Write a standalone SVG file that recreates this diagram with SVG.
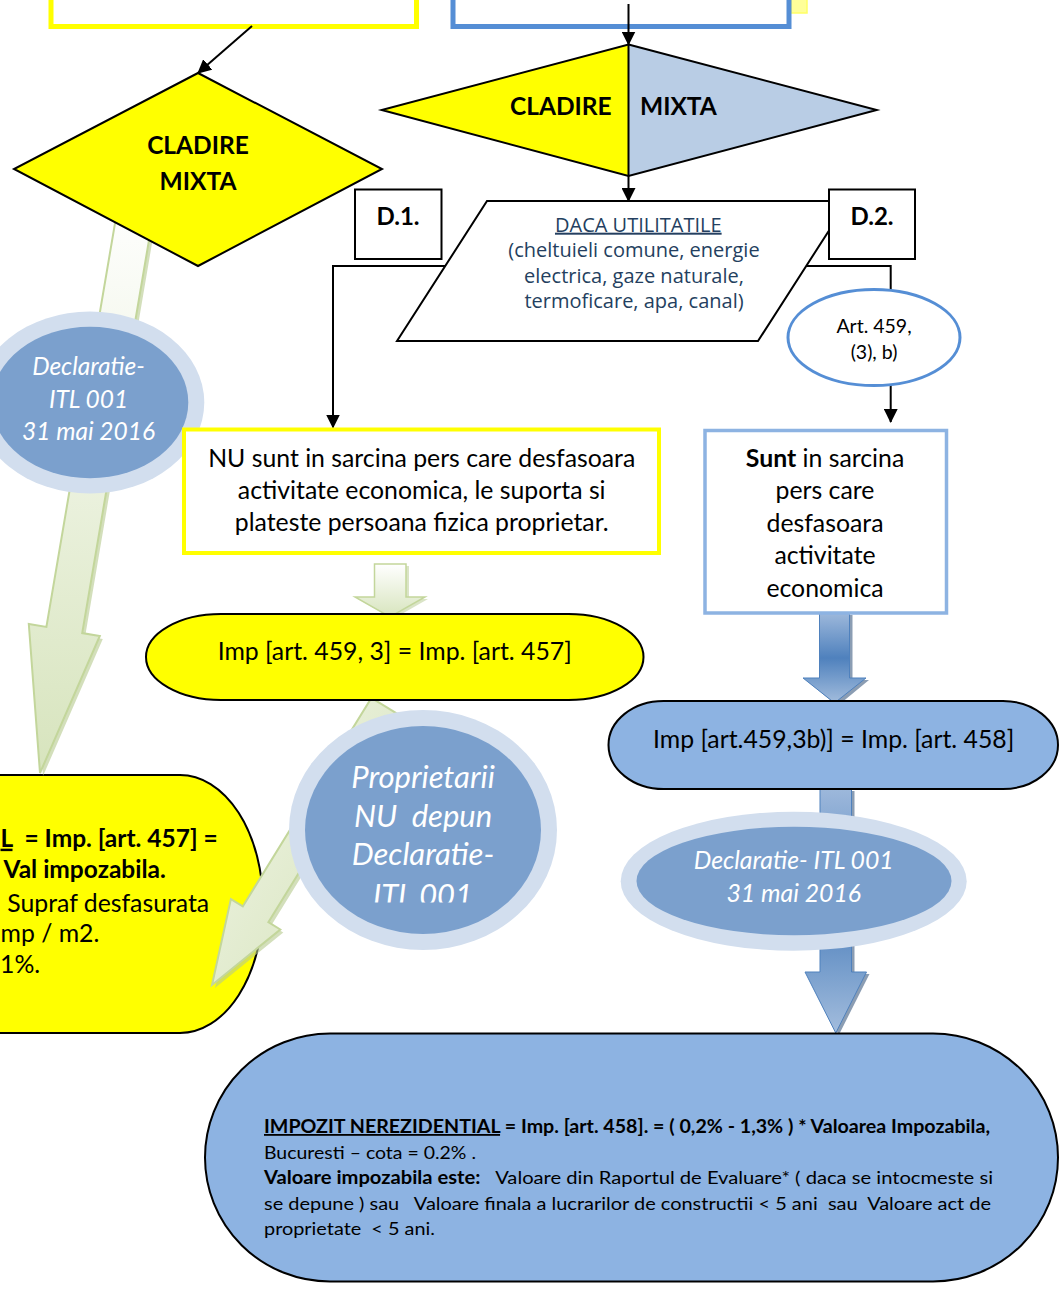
<svg xmlns="http://www.w3.org/2000/svg" width="1062" height="1290" viewBox="0 0 1062 1290">
<defs>
<style>
.t{font-family:Lato,"Open Sans","Liberation Sans",sans-serif;fill:#000}
.b{font-weight:bold}
.it{font-style:italic;fill:#fff}
.c{text-anchor:middle}
.u{text-decoration:underline}
.ln{fill:none;stroke:#000;stroke-width:2}
.blk{stroke:#000;stroke-width:2}
.ring{fill:#D2DEEE}
.core{fill:#7BA0CD}
.par{font-family:"Open Sans",Lato,sans-serif;fill:#243F60;font-size:20px;text-anchor:middle}
.m{font-size:24.8px}
</style>
<marker id="ah" markerWidth="14" markerHeight="14" refX="13" refY="7" orient="auto" markerUnits="userSpaceOnUse"><path d="M0,0 L14,7 L0,14 z" fill="#000"/></marker>
<linearGradient id="gG" x1="0" y1="0" x2="0" y2="1"><stop offset="0" stop-color="#FFFFFF"/><stop offset="1" stop-color="#D7E4BD"/></linearGradient>
<linearGradient id="gG2" x1="0" y1="0" x2="1" y2="1"><stop offset="0" stop-color="#F2F6E9"/><stop offset="1" stop-color="#D4E2B8"/></linearGradient>
<linearGradient id="gB" x1="0" y1="0" x2="0" y2="1"><stop offset="0" stop-color="#9DB8DB"/><stop offset="0.5" stop-color="#4F81BD"/><stop offset="1" stop-color="#A3BDDD"/></linearGradient>
<clipPath id="clipP"><rect x="280" y="700" width="300" height="202.5"/></clipPath>
</defs>
<rect width="1062" height="1290" fill="#fff"/>

<g id="top-yellow-box"><rect x="51" y="-20" width="365.5" height="46.5" fill="#fff" stroke="#FFFF00" stroke-width="5"/></g>
<g id="top-yellow-patch"><rect x="791" y="-5" width="16" height="18" fill="#FFFF99" stroke="#FFFF66" stroke-width="1.5"/></g>
<g id="top-blue-box"><rect x="453" y="-20" width="336" height="46.5" fill="#fff" stroke="#558ED5" stroke-width="5"/></g>

<g id="left-result"><path d="M-20,775 H180 A83,129 0 0 1 180,1033 H-20 Z" fill="#FFFF00" class="blk"/>
<text class="t b" font-size="24.5" y="846.7" xml:space="preserve"><tspan x="0.5" class="u">L</tspan><tspan>  = Imp. [art. 457] =</tspan></text>
<text class="t b" font-size="24.5" x="3.5" y="878.3">Val impozabila.</text>
<text class="t" font-size="24.8" x="7.3" y="911.7">Supraf desfasurata</text>
<text class="t" font-size="24.8" x="0.5" y="941.7">mp / m2.</text>
<text class="t" font-size="24.8" x="0" y="973.3">1%.</text>
</g>

<g id="connectors">
<line class="ln" x1="252" y1="26" x2="198" y2="73" marker-end="url(#ah)"/>
<line class="ln" x1="628.5" y1="4" x2="628.5" y2="44.5" marker-end="url(#ah)"/>
<line class="ln" x1="628.5" y1="176" x2="628.5" y2="201" marker-end="url(#ah)"/>
<polyline class="ln" points="445,266 333,266 333,427.5" marker-end="url(#ah)"/>
<polyline class="ln" points="806,266 890.7,266 890.7,292"/>
<line class="ln" x1="890.7" y1="384" x2="890.7" y2="422" marker-end="url(#ah)"/>
<g id="green-arrow-left">
<polygon points="158.3,206.1 85.2,636.1 102.8,639 43,776 31.8,627 49.4,629.9 122.5,199.9" fill="#B5C98E" opacity="0.6"/>
<polygon points="155.3,203.1 82.2,633.1 99.8,636 40,773 28.8,624 46.4,626.9 119.5,196.9" fill="url(#gG)" stroke="#C3D69B" stroke-width="2"/>
</g>
<g id="green-arrow-mid">
<polygon points="377.5,566 409,566 409,599 428,599 393,619 358,599 377.5,599" fill="#B5C98E" opacity="0.5"/>
<polygon points="374.5,564 406,564 406,597 425,597 390,617 355,597 374.5,597" fill="url(#gG)" stroke="#C3D69B" stroke-width="1.5"/>
</g>
<g id="green-arrow-diag">
<polygon points="374.4,700.9 400,716.7 271.4,925.2 283.3,932.5 215,988 233.9,902.1 245.8,909.4" fill="#B5C98E" opacity="0.6"/>
<polygon points="371.4,697.9 397,713.7 268.4,922.2 280.3,929.5 212,985 230.9,899.1 242.8,906.4" fill="url(#gG2)" stroke="#C3D69B" stroke-width="2"/>
</g>
<g id="blue-arrow-1">
<polygon points="822.5,615 852.5,615 852.5,680 869,680 837.5,706 806,680 822.5,680" fill="#2C4D75" opacity="0.55"/>
<polygon points="819.5,613 849.5,613 849.5,678 866,678 834.5,703 803,678 819.5,678" fill="url(#gB)" stroke="#4F81BD" stroke-width="1"/>
</g>
<g id="blue-arrow-2">
<polygon points="823,791 854.5,791 854.5,974 869.5,974 838.8,1035 808,974 823,974" fill="#2C4D75" opacity="0.55"/>
<polygon points="820,789 851.5,789 851.5,972 866.5,972 835.8,1033 805,972 820,972" fill="url(#gB)" stroke="#4F81BD" stroke-width="1"/>
</g>
</g>

<g id="left-diamond"><polygon points="198,73 382,169 198,266 14,169" fill="#FFFF00" class="blk"/>
<text class="t b c" font-size="24.5" x="198" y="154">CLADIRE</text>
<text class="t b c" font-size="24.5" x="198" y="190">MIXTA</text></g>

<g id="left-decl"><ellipse class="ring" cx="90" cy="402.5" rx="114.3" ry="91"/><ellipse class="core" cx="90" cy="402.5" rx="98.3" ry="75.8"/>
<text class="t it c" font-size="24.5" x="88.5" y="375">Declaratie-</text>
<text class="t it c" font-size="24.5" x="88.5" y="408.3">ITL 001</text>
<text class="t it c" font-size="24.5" x="88.5" y="440">31 mai 2016</text></g>

<g id="center-diamond"><polygon points="628.5,44.5 628.5,176 381.7,110" fill="#FFFF00"/><polygon points="628.5,44.5 876.7,110 628.5,176" fill="#B9CDE5"/>
<polygon points="628.5,44.5 876.7,110 628.5,176 381.7,110" fill="none" class="blk"/>
<line x1="628.5" y1="44.5" x2="628.5" y2="176" class="blk"/>
<text class="t b" font-size="24.5" x="611.7" y="115" text-anchor="end">CLADIRE</text>
<text class="t b" font-size="24.5" x="640" y="115">MIXTA</text></g>

<g id="utilitati"><polygon points="487,201 848,201 758,341 397,341" fill="#fff" class="blk"/>
<text class="par u" x="638.3" y="231.7">DACA UTILITATILE</text>
<text class="par" x="634" y="257.3">(cheltuieli comune, energie</text>
<text class="par" x="634" y="283.3">electrica, gaze naturale,</text>
<text class="par" x="634" y="308.3">termoficare, apa, canal)</text></g>

<g id="d1"><rect x="355" y="189.5" width="86.5" height="69.5" fill="#fff" class="blk"/><text class="t b c" font-size="24" x="398" y="225">D.1.</text></g>
<g id="d2"><rect x="829" y="189.5" width="86" height="69.5" fill="#fff" class="blk"/><text class="t b c" font-size="24" x="872" y="225">D.2.</text></g>

<g id="art459"><ellipse cx="874" cy="337.5" rx="86" ry="48" fill="#fff" stroke="#558ED5" stroke-width="3"/>
<text class="t c" font-size="19.5" x="874" y="333">Art. 459,</text>
<text class="t c" font-size="19.5" x="874" y="359">(3), b)</text></g>

<g id="nu-box"><rect x="184" y="429.5" width="475" height="123.5" fill="#fff" stroke="#FFFF00" stroke-width="4"/>
<text class="t c m" x="421.7" y="466.7">NU sunt in sarcina pers care desfasoara</text>
<text class="t c m" x="421.7" y="499">activitate economica, le suporta si</text>
<text class="t c m" x="421.7" y="531.3">plateste persoana fizica proprietar.</text></g>

<g id="sunt-box"><rect x="705" y="430.5" width="241.5" height="182.5" fill="#fff" stroke="#8DB3E2" stroke-width="3.5"/>
<text class="t c m" x="825" y="466.7"><tspan class="b">Sunt</tspan> in sarcina</text>
<text class="t c m" x="825" y="499">pers care</text>
<text class="t c m" x="825" y="531.5">desfasoara</text>
<text class="t c m" x="825" y="564.3">activitate</text>
<text class="t c m" x="825" y="596.7">economica</text></g>

<g id="imp457"><rect x="146" y="614" width="497.5" height="86" rx="75" ry="43" fill="#FFFF00" class="blk"/>
<text class="t c m" x="394.7" y="660">Imp [art. 459, 3] = Imp. [art. 457]</text></g>

<g id="imp458"><rect x="608.5" y="701" width="449.5" height="88" rx="55" ry="44" fill="#8DB3E2" class="blk"/>
<text class="t c m" x="833.7" y="748.3">Imp [art.459,3b)] = Imp. [art. 458]</text></g>

<g id="proprietarii"><ellipse class="ring" cx="423" cy="830" rx="134" ry="120"/><ellipse class="core" cx="423" cy="830" rx="118" ry="104"/>
<g clip-path="url(#clipP)">
<text class="t it c" font-size="31" x="423" y="788.3">Proprietarii</text>
<text class="t it c" font-size="31" x="423" y="826.7" xml:space="preserve">NU  depun</text>
<text class="t it c" font-size="31" x="423" y="865">Declaratie-</text>
<text class="t it c" font-size="31" x="423" y="905.5">ITL 001</text></g></g>

<g id="right-decl"><ellipse class="ring" cx="793.7" cy="881.2" rx="173" ry="69.5"/><ellipse class="core" cx="794" cy="881" rx="157.5" ry="54.2"/>
<text class="t it c" font-size="24.8" x="793.7" y="869.3">Declaratie- ITL 001</text>
<text class="t it c" font-size="24.8" x="793.7" y="901.7">31 mai 2016</text></g>

<g id="nerezidential"><rect x="205" y="1033.5" width="853" height="248" rx="125" ry="124" fill="#8DB3E2" class="blk"/>
<text class="t b" font-size="18" x="264" y="1133" textLength="726" lengthAdjust="spacingAndGlyphs"><tspan class="u">IMPOZIT NEREZIDENTIAL</tspan> = Imp. [art. 458]. = ( 0,2% - 1,3% ) * Valoarea Impozabila,</text>
<text class="t" font-size="18" x="264" y="1158.5" textLength="212" lengthAdjust="spacingAndGlyphs">Bucuresti – cota = 0.2% .</text>
<text class="t" font-size="18" x="264" y="1184" textLength="729" lengthAdjust="spacingAndGlyphs" xml:space="preserve"><tspan class="b">Valoare impozabila este:</tspan>   Valoare din Raportul de Evaluare* ( daca se intocmeste si</text>
<text class="t" font-size="18" x="264" y="1209.5" textLength="727" lengthAdjust="spacingAndGlyphs" xml:space="preserve">se depune ) sau   Valoare finala a lucrarilor de constructii &lt; 5 ani  sau  Valoare act de</text>
<text class="t" font-size="18" x="264" y="1235" textLength="171" lengthAdjust="spacingAndGlyphs" xml:space="preserve">proprietate  &lt; 5 ani.</text></g>
</svg>
